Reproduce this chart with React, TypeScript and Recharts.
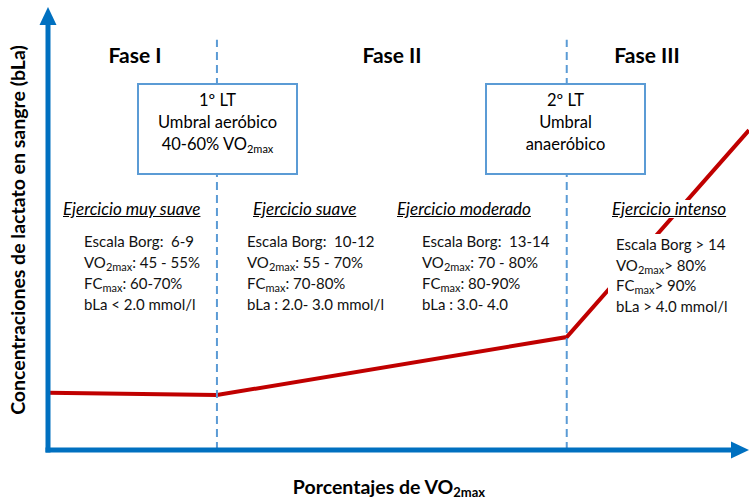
import React from 'react'
import { LineChart, Line, XAxis, YAxis, ReferenceLine } from 'recharts'

// x = % of the horizontal axis, y = % of the vertical axis (schematic, no ticks)
const curveX = [0, 24.1, 74, 100]
const lactate = [12.9, 12.4, 25.5, 72.2]
const thresholds = [24.1, 74]

const phases = ['Fase I', 'Fase II', 'Fase III']
const exercises = ['Ejercicio muy suave', 'Ejercicio suave', 'Ejercicio moderado', 'Ejercicio intenso']
const borg = ['Escala Borg:  6-9', 'Escala Borg:  10-12', 'Escala Borg:  13-14', 'Escala Borg > 14']
const vo2 = [': 45 - 55%', ': 55 - 70%', ': 70 - 80%', '> 80%']
const fc = [': 60-70%', ': 70-80%', ': 80-90%', '> 90%']
const bla = ['bLa < 2.0 mmol/l', 'bLa : 2.0- 3.0 mmol/l', 'bLa : 3.0- 4.0', 'bLa > 4.0 mmol/l']

const curve = curveX.map((x, i) => ({ x, y: lactate[i] }))

const AXIS = '#0070C0'
const DASH = '#5B9BD5'
const W = 749
const H = 500

const Arrow = (props: any) => {
  const { x1, y1, x2, y2 } = props
  const len = Math.hypot(x2 - x1, y2 - y1)
  const ux = (x2 - x1) / len
  const uy = (y2 - y1) / len
  const head = 18
  const half = 8.5
  const bx = x2 - ux * head
  const by = y2 - uy * head
  return (
    <g>
      <line x1={x1 - ux * 2.5} y1={y1 - uy * 2.5} x2={bx + ux} y2={by + uy} stroke={AXIS} strokeWidth={5} />
      <polygon
        points={`${x2},${y2} ${bx - uy * half},${by + ux * half} ${bx + uy * half},${by - ux * half}`}
        fill={AXIS}
      />
    </g>
  )
}

const Sub = ({ children, size = 11 }: { children: React.ReactNode; size?: number }) => (
  <span style={{ fontSize: size, verticalAlign: -3, lineHeight: 0 }}>{children}</span>
)

const phaseX = [135, 392, 647]
const titleLeft = [63, 253, 397, 612]
const blockLeft = [84, 247, 422, 616]
const blockTop = [231, 231, 231, 234]

const over: React.CSSProperties = { position: 'absolute', zIndex: 5, whiteSpace: 'nowrap' }
const MASK = '#ffffff'

export default function App() {
  return (
    <div style={{ position: 'relative', width: W, height: H, overflow: 'hidden', backgroundColor: '#fff', fontFamily: 'Lato, sans-serif', color: '#000' }}>
      <style>{'html,body{margin:0;padding:0;overflow:hidden}'}</style>
      <LineChart width={W} height={H} data={curve} margin={{ top: 7, right: 0, left: 48, bottom: 50 }}>
        <XAxis type="number" dataKey="x" domain={[0, 100]} hide />
        <YAxis type="number" domain={[0, 100]} hide />
        <Line
          type="linear"
          dataKey="y"
          stroke="#C00000"
          strokeWidth={4}
          dot={false}
          activeDot={false}
          isAnimationActive={false}
        />
        {thresholds.map((t) => (
          <ReferenceLine
            key={t}
            segment={[{ x: t, y: 0 }, { x: t, y: 92.6 }]}
            stroke={DASH}
            strokeWidth={2}
            strokeDasharray="8 5"
            ifOverflow="visible"
          />
        ))}
        <ReferenceLine segment={[{ x: 0, y: 0 }, { x: 0, y: 100 }]} ifOverflow="visible" shape={Arrow} />
        <ReferenceLine segment={[{ x: 0, y: 0 }, { x: 100, y: 0 }]} ifOverflow="visible" shape={Arrow} />
      </LineChart>

      {phases.map((p, i) => (
        <div key={p} style={{ ...over, left: phaseX[i], top: 44, transform: 'translateX(-50%)', fontSize: 21, fontWeight: 700, lineHeight: 1 }}>
          {p}
        </div>
      ))}

      {[
        { left: 137, lines: [<>1º LT</>, <>Umbral aeróbico</>, <>40-60% VO<Sub>2max</Sub></>] },
        { left: 485, lines: [<>2º LT</>, <>Umbral</>, <>anaeróbico</>] },
      ].map((b, i) => (
        <div
          key={i}
          style={{
            ...over, left: b.left, top: 83, width: 157, height: 84, border: `2px solid ${DASH}`,
            backgroundColor: '#fff', textAlign: 'center', fontSize: 16.5, lineHeight: '22px', paddingTop: 4, boxSizing: 'content-box',
          }}
        >
          {b.lines.map((l, j) => <div key={j}>{l}</div>)}
        </div>
      ))}

      {exercises.map((e, i) => {
        const pad = i === 3 ? 4 : 0
        return (
          <div key={e} style={{ ...over, left: titleLeft[i] - pad, top: 200, padding: `0 ${pad}px 1px`, fontSize: 17, fontStyle: 'italic', textDecoration: 'underline', lineHeight: 1, backgroundColor: i === 3 ? MASK : undefined }}>
            {e}
          </div>
        )
      })}

      {exercises.map((e, i) => {
        const pad = i === 3 ? 8 : 0
        return (
          <div key={e + 'b'} style={{ ...over, whiteSpace: 'pre', left: blockLeft[i] - pad, top: blockTop[i], padding: `0 ${pad}px`, fontSize: 15, lineHeight: i === 3 ? '20.5px' : '21px', color: '#111', backgroundColor: i === 3 ? MASK : undefined }}>
            <div>{borg[i]}</div>
            <div>VO<Sub>2max</Sub>{vo2[i]}</div>
            <div>FC<Sub>max</Sub>{fc[i]}</div>
            <div>{bla[i]}</div>
          </div>
        )
      })}

      <div style={{ ...over, left: 389, top: 477, transform: 'translateX(-50%)', fontSize: 19.5, fontWeight: 700, lineHeight: 1 }}>
        Porcentajes de VO<Sub size={13}>2max</Sub>
      </div>

      <div style={{ ...over, left: 18, top: 230, transform: 'translate(-50%, -50%) rotate(-90deg)', fontSize: 19.5, fontWeight: 700, lineHeight: 1 }}>
        Concentraciones de lactato en sangre (bLa)
      </div>
    </div>
  )
}
